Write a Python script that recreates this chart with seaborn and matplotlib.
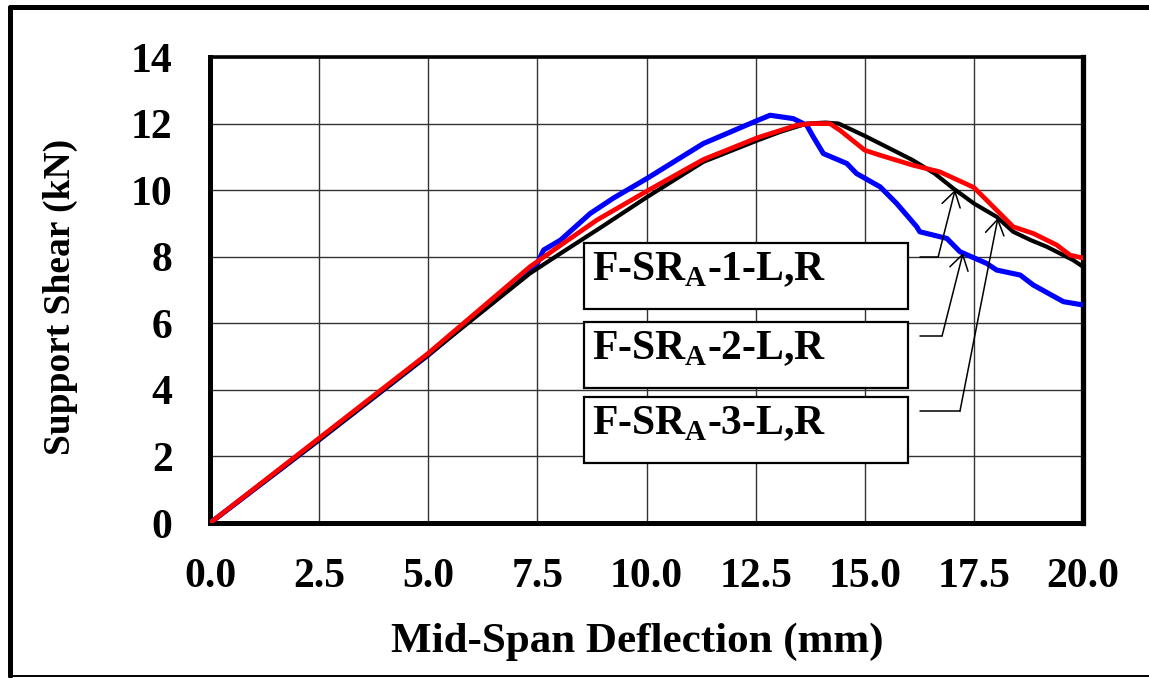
import numpy as np
import pandas as pd
import matplotlib
matplotlib.use("Agg")
import matplotlib.pyplot as plt
import seaborn as sns
from matplotlib.patches import Rectangle
from matplotlib.lines import Line2D
from matplotlib.ticker import MultipleLocator, FormatStrFormatter

# Support shear vs. mid-span deflection for the three F-SR_A specimens
defl_1 = [0.0, 2.5, 5.0, 7.33, 8.03, 9.0, 10.02, 11.3, 12.55, 13.06, 13.67, 14.1, 14.4,
          15.0, 15.5, 16.1, 16.6, 17.03, 17.5, 18.02, 18.4, 18.8, 19.17, 19.77, 20.0]
shear_1 = [0.0, 2.5, 5.05, 7.5, 8.1, 8.92, 9.8, 10.85, 11.5, 11.75, 12.0, 12.03, 12.0,
           11.63, 11.3, 10.9, 10.5, 10.05, 9.6, 9.2, 8.75, 8.5, 8.3, 7.9, 7.7]

defl_2 = [0.0, 2.5, 5.0, 7.5, 7.64, 8.03, 8.71, 9.24, 10.02, 11.3, 12.55, 12.83, 13.36,
          13.67, 13.82, 14.05, 14.59, 14.81, 15.35, 15.73, 16.19, 16.26, 16.88, 17.18,
          17.79, 18.02, 18.56, 18.86, 19.55, 20.0]
shear_2 = [0.0, 2.5, 5.05, 7.8, 8.2, 8.5, 9.3, 9.76, 10.36, 11.4, 12.1, 12.25, 12.15,
           11.95, 11.6, 11.1, 10.8, 10.5, 10.1, 9.6, 8.9, 8.75, 8.55, 8.15,
           7.8, 7.6, 7.45, 7.15, 6.65, 6.55]

defl_3 = [0.0, 2.5, 5.0, 7.33, 8.09, 8.86, 10.02, 11.3, 12.55, 13.44, 13.8, 14.2, 14.43,
          15.0, 15.35, 16.1, 16.72, 17.5, 18.02, 18.4, 18.86, 19.4, 19.7, 20.0]
shear_3 = [0.0, 2.55, 5.1, 7.7, 8.4, 9.1, 9.98, 10.92, 11.58, 11.95, 12.0, 12.0, 11.8,
           11.2, 11.05, 10.75, 10.55, 10.08, 9.4, 8.9, 8.7, 8.35, 8.05, 7.96]

labels = ["F-SR$_{\\mathrm{A}}$-1-L,R", "F-SR$_{\\mathrm{A}}$-2-L,R", "F-SR$_{\\mathrm{A}}$-3-L,R"]
x_ticks = [0.0, 2.5, 5.0, 7.5, 10.0, 12.5, 15.0, 17.5, 20.0]
y_ticks = [0, 2, 4, 6, 8, 10, 12, 14]

sns.set_style("white")
plt.rcParams["font.family"] = ["Liberation Serif", "DejaVu Serif"]
plt.rcParams["font.weight"] = "bold"
plt.rcParams["text.color"] = "black"
plt.rcParams["xtick.labelcolor"] = "black"
plt.rcParams["ytick.labelcolor"] = "black"
plt.rcParams["mathtext.fontset"] = "custom"
plt.rcParams["mathtext.rm"] = "Liberation Serif:bold"
plt.rcParams["mathtext.bf"] = "Liberation Serif:bold"

fig = plt.figure(figsize=(11.49, 6.78), dpi=100)
ax = fig.add_axes([0.1828, 0.2286, 0.7598, 0.6873])

df = pd.concat([
    pd.DataFrame({"defl": defl_2, "shear": shear_2, "spec": "2"}),
    pd.DataFrame({"defl": defl_1, "shear": shear_1, "spec": "1"}),
    pd.DataFrame({"defl": defl_3, "shear": shear_3, "spec": "3"}),
])
styles = {"2": ("#0000ff", 3.7), "1": ("#000000", 3.0), "3": ("#ff0000", 3.4)}
for spec in ["2", "1", "3"]:
    sub = df[df["spec"] == spec]
    c, lw = styles[spec]
    sns.lineplot(data=sub, x="defl", y="shear", color=c, linewidth=lw,
                 sort=False, estimator=None, ax=ax, zorder=3)

ax.set_xlim(0, 20)
ax.set_ylim(0, 14)
ax.set_xticks(x_ticks)
ax.set_yticks(y_ticks)
ax.xaxis.set_major_formatter(FormatStrFormatter("%.1f"))
ax.yaxis.set_major_formatter(FormatStrFormatter("%d"))
ax.xaxis.set_minor_locator(MultipleLocator(0.5))
ax.yaxis.set_minor_locator(MultipleLocator(0.4))
ax.tick_params(which="major", direction="out", length=11, width=1.0, color="#333333",
               labelsize=30, labelcolor="black")
ax.tick_params(axis="x", which="major", pad=14)
ax.tick_params(axis="y", which="major", pad=16)
ax.tick_params(which="minor", direction="in", length=7, width=1.4, color="black")
for lab in ax.get_xticklabels() + ax.get_yticklabels():
    lab.set_fontweight("bold")

ax.grid(True, which="major", color="#333333", linewidth=1.0, zorder=0)
ax.set_axisbelow(True)
ax.spines["left"].set_linewidth(3.6)
ax.spines["bottom"].set_linewidth(3.6)
ax.spines["top"].set_linewidth(2.6)
ax.spines["right"].set_linewidth(3.8)
for s in ax.spines.values():
    s.set_color("black")
    s.set_visible(True)

ax.set_xlabel("")
ax.set_ylabel("")
fig.text(0.5548, 0.038, "Mid-Span Deflection (mm)", ha="center", va="baseline",
         fontsize=31, fontweight="bold")
fig.text(0.053, 0.562, "Support Shear (kN)", ha="center", va="center", rotation=90,
         fontsize=27, fontweight="bold")

# specimen label boxes
box_tops = [0.6009, 0.4313, 0.2704]
box_h = 0.1416
for lab, top in zip(labels, box_tops):
    ax.add_patch(Rectangle((0.4284, top - box_h), 0.371, box_h, transform=ax.transAxes,
                           facecolor="white", edgecolor="black", linewidth=1.6, zorder=5))
    ax.text(0.4376, top - 0.079, lab, transform=ax.transAxes, ha="left", va="baseline",
            fontsize=30, fontweight="bold", zorder=6)

# leader lines from labels to curves
leaders = [
    (16.27, 16.68, 7.99, 17.07, defl_1, shear_1),
    (16.27, 16.77, 5.62, 17.25, defl_2, shear_2),
    (16.27, 17.18, 3.36, 18.05, defl_1, shear_1),
]
for x0, x1, yl, xt, dx, dy in leaders:
    yt = float(np.interp(xt, dx, dy))
    ax.plot([x0, x1], [yl, yl], color="black", linewidth=1.1, zorder=4)
    ax.annotate("", xy=(xt, yt), xytext=(x1, yl),
                arrowprops=dict(arrowstyle="->,head_length=0.45,head_width=0.28",
                                color="black", lw=1.1, mutation_scale=24,
                                shrinkA=0, shrinkB=0), zorder=4)

# outer frame
fig.add_artist(Line2D([0.0083, 0.0083], [0.003, 0.990], transform=fig.transFigure,
                      color="black", linewidth=3.6))
fig.add_artist(Line2D([0.0083, 1.0], [0.990, 0.990], transform=fig.transFigure,
                      color="black", linewidth=3.6))
fig.add_artist(Line2D([0.0083, 1.0], [0.003, 0.003], transform=fig.transFigure,
                      color="black", linewidth=1.4))

fig.savefig("out.png", dpi=100)
